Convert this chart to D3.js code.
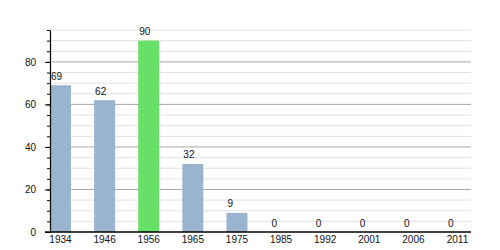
<!DOCTYPE html>
<html>
<head>
<meta charset="utf-8">
<script src="https://cdn.jsdelivr.net/npm/d3@7"></script>
<style>
  body { margin: 0; background: #fff; }
  text { font-family: "Liberation Sans", Arial, sans-serif; }
</style>
</head>
<body>
<svg id="chart" width="500" height="250"></svg>
<script>
var years = ["1934", "1946", "1956", "1965", "1975", "1985", "1992", "2001", "2006", "2011"];
var counts = [69, 62, 90, 32, 9, 0, 0, 0, 0, 0];
var highlight = ["1956"];
var majorTicks = [0, 20, 40, 60, 80];

var svg = d3.select("#chart"),
    margin = {top: 30, right: 29, bottom: 18, left: 50},
    width = +svg.attr("width") - margin.left - margin.right,
    height = +svg.attr("height") - margin.top - margin.bottom;

var g = svg.append("g")
  .attr("transform", "translate(" + margin.left + "," + margin.top + ")");

var x = d3.scaleBand()
  .domain(years)
  .range([0, width - 3])
  .paddingInner(0.524)
  .paddingOuter(0);

var y = d3.scaleLinear()
  .domain([0, 95])
  .range([height, 0]);

// grid lines, light ones every 5, darker at the labelled ticks
g.append("g")
  .selectAll("line")
  .data(d3.range(5, 96, 5))
  .enter()
  .append("line")
  .attr("x1", 0)
  .attr("x2", width)
  .attr("y1", d => y(d))
  .attr("y2", d => y(d))
  .attr("stroke", d => majorTicks.indexOf(d) >= 0 ? "#a8a8a8" : "#e2e2e2")
  .attr("stroke-width", 1);

g.selectAll("rect.bar")
  .data(counts)
  .enter()
  .append("rect")
  .attr("class", "bar")
  .attr("x", (d, i) => x(years[i]))
  .attr("y", d => y(d))
  .attr("width", x.bandwidth())
  .attr("height", d => height - y(d))
  .attr("fill", (d, i) => highlight.indexOf(years[i]) >= 0 ? "#66e066" : "#9ab3cf");

g.selectAll("text.val")
  .data(counts)
  .enter()
  .append("text")
  .attr("class", "val")
  .attr("x", (d, i) => x(years[i]) + 1)
  .attr("y", d => y(d) - 5.5)
  .attr("font-size", "10px")
  .attr("fill", "#111")
  .text(d => d);

// y axis: minor ticks then labelled ticks
var minorAxis = g.append("g")
  .call(d3.axisLeft(y).tickValues(d3.range(0, 96, 5)).tickSize(3).tickFormat(""));
minorAxis.select(".domain").remove();
minorAxis.selectAll("line").attr("stroke", "#000");

var yAxis = g.append("g")
  .call(d3.axisLeft(y).tickValues(majorTicks).tickSize(5).tickPadding(9).tickSizeOuter(0));
yAxis.select(".domain").attr("stroke", "#000").attr("stroke-width", 1.2);
yAxis.selectAll("text")
  .attr("font-size", "10px")
  .attr("font-family", "Liberation Sans, Arial, sans-serif")
  .attr("fill", "#111");

// x axis
var xAxis = g.append("g")
  .attr("transform", "translate(0," + height + ")")
  .call(d3.axisBottom(x).tickSize(0).tickPadding(4));
xAxis.select(".domain").remove();
xAxis.selectAll("text")
  .attr("font-size", "10px")
  .attr("font-family", "Liberation Sans, Arial, sans-serif")
  .attr("fill", "#111");

g.append("line")
  .attr("x1", -5)
  .attr("x2", width)
  .attr("y1", height)
  .attr("y2", height)
  .attr("stroke", "#000")
  .attr("stroke-width", 1.5);
</script>
</body>
</html>
